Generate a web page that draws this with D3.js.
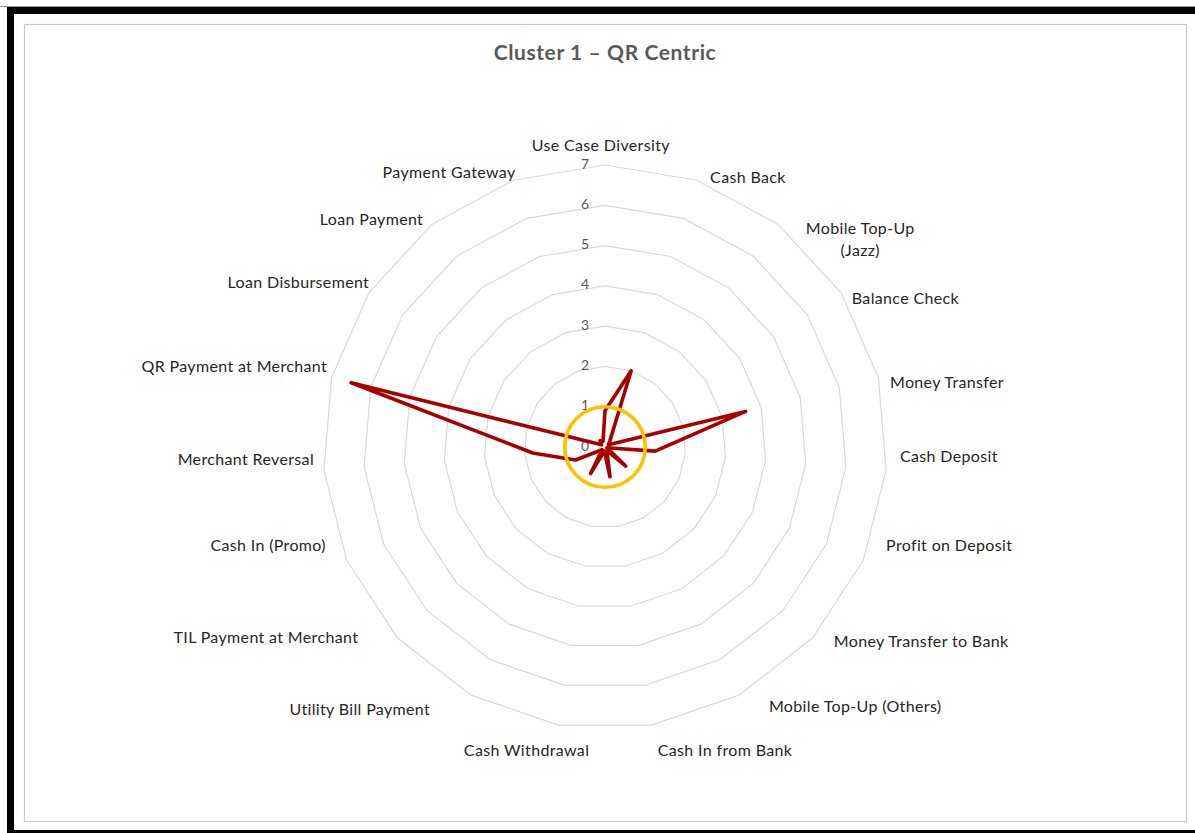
<!DOCTYPE html>
<html>
<head>
<meta charset="utf-8">
<script src="https://cdn.jsdelivr.net/npm/d3@7"></script>
<style>
  html, body { margin: 0; padding: 0; background: #fff; }
  svg { display: block; }
</style>
</head>
<body>
<svg id="chart" width="1195" height="833"></svg>
<script>
// Usage scores per transaction category, clockwise from the top
const categories = [
  "Use Case Diversity", "Cash Back", "Mobile Top-Up\n(Jazz)", "Balance Check",
  "Money Transfer", "Cash Deposit", "Profit on Deposit", "Money Transfer to Bank",
  "Mobile Top-Up (Others)", "Cash In from Bank", "Cash Withdrawal",
  "Utility Bill Payment", "TIL Payment at Merchant", "Cash In (Promo)",
  "Merchant Reversal", "QR Payment at Merchant", "Loan Disbursement",
  "Loan Payment", "Payment Gateway"
];
const clusterValues = [
  0.9, 2.0, 0.2, 0.1, 3.6, 1.25, 0.05, 0.7, 0.1, 0.75,
  0.1, 0.75, 0.1, 0.8, 1.8, 6.5, 0.1, 0.2, 0.15
];
const radialTicks = [0, 1, 2, 3, 4, 5, 6, 7];
const highlightLevel = 1;
const chartTitle = "Cluster 1 \u2013 QR Centric";

// Small per-label offsets so category names sit clear of the outer ring
const labelNudge = [
  [-4, -6], [9, 10], [19, 26], [-1, 13], [-2, 8], [0, -15], [10, -20],
  [11, -6], [23, -1], [4, 12], [33, 12], [-34, 2], [-29, -10], [-8, -20],
  [4, -12], [9, -8], [12, -3], [0, 6], [7, 5]
];

const svg = d3.select("#chart");
const W = 1195, H = 833;
const cx = 605, cy = 447;
const font = "Lato, 'Open Sans', sans-serif";

// Outer frame
svg.append("rect").attr("x", 0).attr("y", 0).attr("width", W).attr("height", H).attr("fill", "#fff");
svg.append("line").attr("x1", 0).attr("x2", W).attr("y1", 6.5).attr("y2", 6.5)
  .attr("stroke", "#9a9a9a").attr("stroke-width", 1);
svg.append("rect").attr("x", 7).attr("y", 7).attr("width", 7).attr("height", H - 7).attr("fill", "#000");
svg.append("rect").attr("x", 7).attr("y", 7).attr("width", W - 7).attr("height", 7).attr("fill", "#000");
svg.append("rect").attr("x", 7).attr("y", 830).attr("width", W - 7).attr("height", 3).attr("fill", "#000");
svg.append("rect").attr("x", 24.5).attr("y", 24.5).attr("width", 1162).attr("height", 797)
  .attr("fill", "none").attr("stroke", "#c8c8c8").attr("stroke-width", 1.2);

// Title
svg.append("text")
  .attr("x", cx).attr("y", 51.5)
  .attr("text-anchor", "middle").attr("dominant-baseline", "central")
  .attr("font-family", font).attr("font-weight", "bold").attr("font-size", 21)
  .attr("letter-spacing", 0.6)
  .attr("fill", "#595959")
  .text(chartTitle);

const n = categories.length;
const angle = d3.scaleLinear().domain([0, n]).range([0, 2 * Math.PI]);
const r = d3.scaleLinear().domain([0, d3.max(radialTicks)]).range([0, 282]);

const g = svg.append("g").attr("transform", `translate(${cx},${cy})`);

// Grid polygons
const ringLine = d3.lineRadial().curve(d3.curveLinearClosed);
radialTicks.filter(t => t > 0).forEach(t => {
  g.append("path")
    .attr("d", ringLine(categories.map((_, i) => [angle(i), r(t)])))
    .attr("fill", "none").attr("stroke", "#d9d9d9").attr("stroke-width", 1.2);
});

// Radial tick labels
g.selectAll("text.tick").data(radialTicks).join("text")
  .attr("class", "tick")
  .attr("x", -20).attr("y", d => -r(d) - 2)
  .attr("text-anchor", "middle").attr("dominant-baseline", "central")
  .attr("font-family", font).attr("font-size", 14).attr("fill", "#595959")
  .text(d => d);

// Series line
const seriesLine = d3.lineRadial()
  .angle((d, i) => angle(i))
  .radius(d => r(d))
  .curve(d3.curveLinearClosed);
g.append("path")
  .datum(clusterValues)
  .attr("d", seriesLine)
  .attr("fill", "none").attr("stroke", "#a80000")
  .attr("stroke-width", 3.6).attr("stroke-linejoin", "round");

// Highlight ring at level 1
g.append("circle")
  .attr("cx", 0).attr("cy", 0).attr("r", r(highlightLevel))
  .attr("fill", "none").attr("stroke", "#ffc000").attr("stroke-width", 3.6);

// Category labels
const labelR = 296;
categories.forEach((name, i) => {
  const a = angle(i);
  const s = Math.sin(a), c = Math.cos(a);
  const ax = labelR * s + labelNudge[i][0];
  const ay = -labelR * c + labelNudge[i][1];
  const lg = g.append("g");
  const t = lg.append("text")
    .attr("text-anchor", "middle")
    .attr("font-family", font).attr("font-size", 16).attr("letter-spacing", 0.35)
    .attr("fill", "#262626");
  name.split("\n").forEach((line, k) => {
    t.append("tspan").attr("x", 0).attr("dy", k === 0 ? 0 : "1.35em").text(line);
  });
  const bb = t.node().getBBox();
  let tx;
  if (s > 0.1) tx = ax - bb.x;
  else if (s < -0.1) tx = ax - (bb.x + bb.width);
  else tx = ax - (bb.x + bb.width / 2);
  const ty = ay - (bb.y + bb.height / 2) - 1;
  lg.attr("transform", `translate(${tx},${ty})`);
});
</script>
</body>
</html>
